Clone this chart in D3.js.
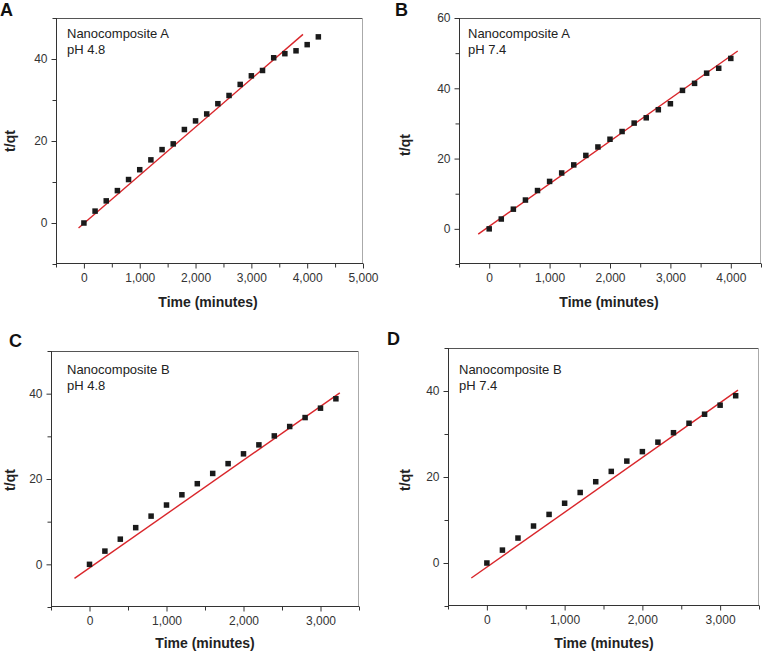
<!DOCTYPE html>
<html>
<head>
<meta charset="utf-8">
<script src="https://cdn.jsdelivr.net/npm/d3@7"></script>
<style>
  html, body { margin: 0; padding: 0; background: #fff; }
  svg { display: block; font-family: "Liberation Sans", Arial, Helvetica, sans-serif; }
</style>
</head>
<body>
<svg id="chart" width="762" height="652"></svg>
<script>
// ---------- DATA ----------
const panelLetters = ["A", "B", "C", "D"];
const panelNames = ["Nanocomposite A", "Nanocomposite A", "Nanocomposite B", "Nanocomposite B"];
const panelPH = ["pH 4.8", "pH 7.4", "pH 4.8", "pH 7.4"];
const xTitle = "Time (minutes)";
const yTitle = "t/qt";

const timeA = [0,200,400,600,800,1000,1200,1400,1600,1800,2000,2200,2400,2600,2800,3000,3200,3400,3600,3800,4000,4200];
const tqtA  = [0,2.9,5.4,7.9,10.6,13.0,15.4,17.9,19.3,22.8,24.9,26.6,29.1,31.1,33.8,35.9,37.2,40.3,41.3,42.0,43.5,45.4];
const fitXA = [-96, 3925];
const fitYA = [-1.2, 46.0];

const timeB = [0,200,400,600,800,1000,1200,1400,1600,1800,2000,2200,2400,2600,2800,3000,3200,3400,3600,3800,4000];
const tqtB  = [0,2.8,5.6,8.2,10.9,13.5,15.9,18.2,20.9,23.3,25.5,27.7,30.1,31.6,33.9,35.6,39.4,41.4,44.3,45.7,48.5];
const fitXB = [-182, 4115];
const fitYB = [-1.5, 50.6];

const timeC = [0,200,400,600,800,1000,1200,1400,1600,1800,2000,2200,2400,2600,2800,3000,3200];
const tqtC  = [0,3.1,5.9,8.6,11.3,13.9,16.3,18.9,21.3,23.6,25.9,28.0,30.1,32.3,34.4,36.6,38.8];
const fitXC = [-195, 3251];
const fitYC = [-3.3, 40.2];

const timeD = [0,200,400,600,800,1000,1200,1400,1600,1800,2000,2200,2400,2600,2800,3000,3200];
const tqtD  = [0,3.0,5.8,8.6,11.3,13.9,16.4,18.9,21.3,23.7,25.9,28.1,30.3,32.5,34.6,36.7,38.9];
const fitXD = [-200, 3230];
const fitYD = [-3.5, 40.2];

const xDomains = [[-500, 5000], [-500, 4500], [-500, 3500], [-500, 3500]];
const yDomains = [[-10, 50], [-10, 60], [-10, 50], [-10, 50]];
const xMajorTicks = [[0,1000,2000,3000,4000,5000], [0,1000,2000,3000,4000], [0,1000,2000,3000], [0,1000,2000,3000]];
const yMajorTicks = [[0,20,40], [0,20,40,60], [0,20,40], [0,20,40]];

// ---------- LAYOUT ----------
const boxes = [
  {l: 56,  r: 363, t: 18,  b: 264, letter: [0, 16],   yt: [10, 141],  xt: [208, 307], ann: [67, 38]},
  {l: 459, r: 761, t: 18,  b: 264, letter: [395, 16], yt: [405, 145], xt: [609, 307], ann: [468, 38]},
  {l: 51,  r: 359, t: 351, b: 607, letter: [9, 347],  yt: [10, 480],  xt: [205, 648], ann: [67, 374]},
  {l: 448, r: 759, t: 348, b: 606, letter: [387, 345],yt: [405, 480], xt: [604, 648], ann: [459, 374]}
];

const series = [
  {x: timeA, y: tqtA, fx: fitXA, fy: fitYA},
  {x: timeB, y: tqtB, fx: fitXB, fy: fitYB},
  {x: timeC, y: tqtC, fx: fitXC, fy: fitYC},
  {x: timeD, y: tqtD, fx: fitXD, fy: fitYD}
];

const svg = d3.select("#chart");
const fmt = d3.format(",");

boxes.forEach((bx, i) => {
  const x = d3.scaleLinear().domain(xDomains[i]).range([bx.l, bx.r]);
  const y = d3.scaleLinear().domain(yDomains[i]).range([bx.b, bx.t]);
  const g = svg.append("g");

  // frame top / right
  g.append("line").attr("x1", bx.l).attr("x2", bx.r).attr("y1", bx.t + 0.5).attr("y2", bx.t + 0.5)
    .attr("stroke", "#555").attr("stroke-width", 1);
  g.append("line").attr("x1", bx.r - 0.5).attr("x2", bx.r - 0.5).attr("y1", bx.t).attr("y2", bx.b)
    .attr("stroke", "#aaa").attr("stroke-width", 1);

  // minor ticks
  const xd = xDomains[i], yd = yDomains[i];
  const xMinor = d3.range(xd[0], xd[1] + 1, 500).filter(v => !xMajorTicks[i].includes(v));
  const yMinor = d3.range(yd[0], yd[1] + 1, 10).filter(v => !yMajorTicks[i].includes(v));

  const xAxisMinor = d3.axisBottom(x).tickValues(xMinor).tickSize(4).tickFormat("");
  const yAxisMinor = d3.axisLeft(y).tickValues(yMinor).tickSize(4).tickFormat("");
  const xAxis = d3.axisBottom(x).tickValues(xMajorTicks[i]).tickSize(5).tickPadding(5).tickFormat(fmt);
  const yAxis = d3.axisLeft(y).tickValues(yMajorTicks[i]).tickSize(5).tickPadding(4);

  [xAxisMinor, xAxis].forEach(ax => {
    g.append("g").attr("transform", `translate(0,${bx.b - 0.5})`).call(ax)
      .call(s => s.select(".domain").attr("stroke", "#333").attr("d", `M${bx.l},0H${bx.r}`))
      .call(s => s.selectAll(".tick line").attr("stroke", "#333"))
      .call(s => s.selectAll("text").attr("fill", "#333").attr("font-size", "12px")
        .attr("font-family", "'Liberation Sans', Arial, sans-serif"));
  });
  [yAxisMinor, yAxis].forEach(ax => {
    g.append("g").attr("transform", `translate(${bx.l + 0.5},0)`).call(ax)
      .call(s => s.select(".domain").attr("stroke", "#333").attr("d", `M0,${bx.t}V${bx.b}`))
      .call(s => s.selectAll(".tick line").attr("stroke", "#333"))
      .call(s => s.selectAll("text").attr("fill", "#333").attr("font-size", "12px")
        .attr("font-family", "'Liberation Sans', Arial, sans-serif"));
  });

  const s = series[i];
  // fit line
  g.append("line")
    .attr("x1", x(s.fx[0])).attr("y1", y(s.fy[0]))
    .attr("x2", x(s.fx[1])).attr("y2", y(s.fy[1]))
    .attr("stroke", "#d9262b").attr("stroke-width", 1.4);

  // points
  const sz = 5.5;
  g.selectAll("rect.pt").data(s.x.map((v, k) => [v, s.y[k]])).join("rect")
    .attr("class", "pt")
    .attr("x", d => x(d[0]) - sz / 2).attr("y", d => y(d[1]) - sz / 2)
    .attr("width", sz).attr("height", sz).attr("fill", "#1a1a1a");

  // annotation
  g.append("text").attr("x", bx.ann[0]).attr("y", bx.ann[1]).text(panelNames[i])
    .attr("font-size", "13px").attr("fill", "#222");
  g.append("text").attr("x", bx.ann[0]).attr("y", bx.ann[1] + 16).text(panelPH[i])
    .attr("font-size", "13px").attr("fill", "#222");

  // panel letter
  g.append("text").attr("x", bx.letter[0]).attr("y", bx.letter[1]).text(panelLetters[i])
    .attr("font-size", "18px").attr("font-weight", "bold").attr("fill", "#111");

  // axis titles
  g.append("text").attr("x", bx.xt[0]).attr("y", bx.xt[1]).attr("text-anchor", "middle")
    .text(xTitle).attr("font-size", "14px").attr("font-weight", "bold").attr("fill", "#222");
  g.append("text").attr("transform", `translate(${bx.yt[0] + 5},${bx.yt[1]}) rotate(-90)`)
    .attr("text-anchor", "middle").text(yTitle)
    .attr("font-size", "14px").attr("font-weight", "bold").attr("fill", "#222");
});
</script>
</body>
</html>
